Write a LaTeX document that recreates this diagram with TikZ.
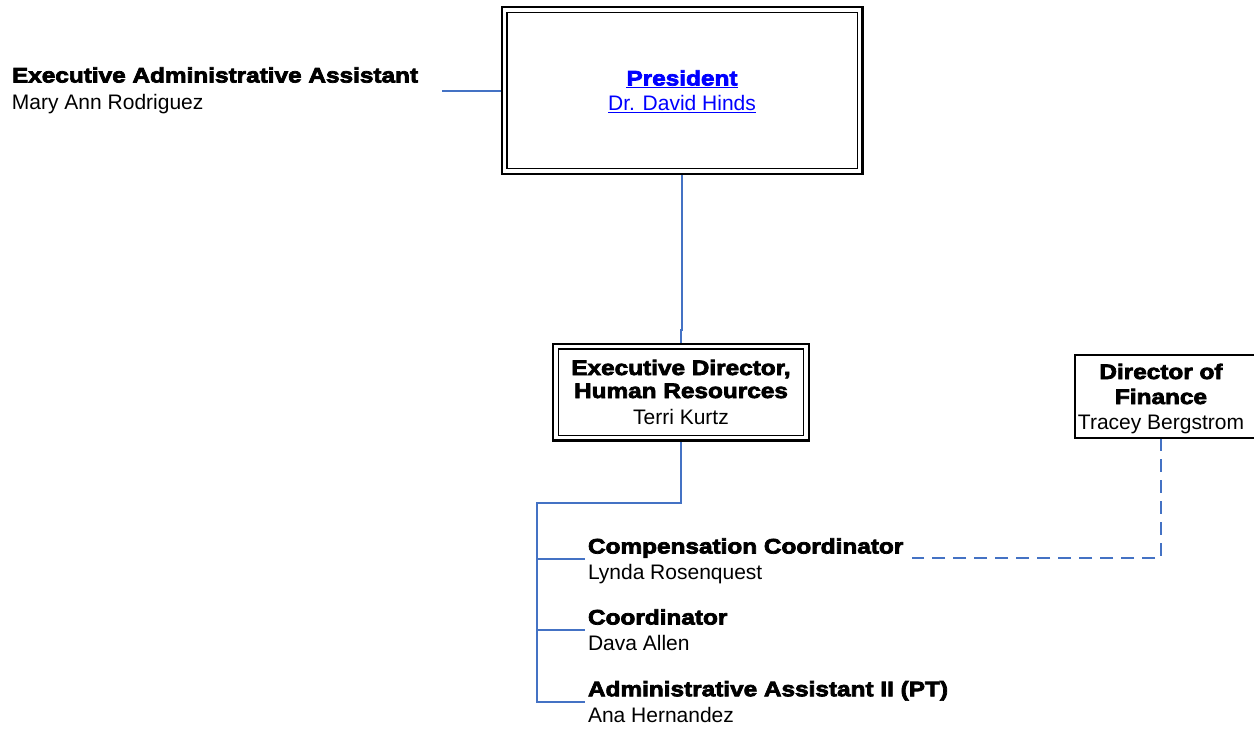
\documentclass[tikz,border=0pt]{standalone}
\usepackage{fontspec}
\setmainfont{Liberation Sans}[BoldFeatures={FakeStretch=1.16,FakeBold=3.5}]
\usetikzlibrary{backgrounds}
\definecolor{connblue}{RGB}{68,114,196}
\definecolor{linkblue}{RGB}{0,0,255}
\newcommand{\topstrut}{\rule{0pt}{20pt}}
\newcommand{\botstrut}{\rule[-5pt]{0pt}{5pt}}
\begin{document}
\begin{tikzpicture}[x=1pt,y=-1pt,
  every node/.style={font=\fontsize{21}{25}\selectfont, inner sep=0pt, outer sep=0pt},
  dblbox/.style={preaction={draw=black, line width=8pt}, draw, double, double distance=3.2pt, line width=1.4pt, fill=white, align=center},
  person/.style={align=left, anchor=west, inner xsep=3pt},
  conn/.style={draw=connblue, line width=2pt},
  dashconn/.style={conn, dash pattern=on 13pt off 8pt},
  boxline/.style={draw=black, line width=2pt}]
\begin{pgfonlayer}{background}
\fill[white] (0,0) rectangle (1254,729);
\end{pgfonlayer}
\useasboundingbox (0,0) rectangle (1254,729);

% boxes
\node[dblbox, text=linkblue, minimum width=355pt, minimum height=161pt] (pres) at (682,90.5)
  {\topstrut\textbf{\underline{President}}\\ \underline{Dr. David Hinds}\botstrut};
\node[dblbox, minimum width=250pt, minimum height=91pt] (ed) at (681,392)
  {\topstrut\textbf{Executive Director,}\\[-2pt] \textbf{Human Resources}\\[1pt] Terri Kurtz\botstrut};
\node[align=center, minimum height=83pt] (dof) at (1161,396.5)
  {\topstrut\textbf{Director of}\\ \textbf{Finance}\\ Tracey Bergstrom\botstrut};
\draw[boxline] (1262,355) -| (1075,438) -- (1262,438);

% staff
\node[align=left, anchor=west] (ea) at (12,88.35)
  {\topstrut\textbf{Executive Administrative Assistant}\\[1.7pt] Mary Ann Rodriguez\botstrut};
\node[person] (cc) at (585,559)
  {\topstrut\textbf{Compensation Coordinator}\\[1pt] Lynda Rosenquest\botstrut};
\node[person] (co) at (585,630)
  {\topstrut\textbf{Coordinator}\\[1pt] Dava Allen\botstrut};
\node[person] (aa) at (585,702)
  {\topstrut\textbf{Administrative Assistant II (PT)}\\[1.5pt] Ana Hernandez\botstrut};

% connectors
\coordinate (eaend) at (442,91);
\coordinate (jog) at (681,330);
\coordinate (bus) at (537,503);
\coordinate (dcorner) at (1161,558);
\coordinate (dend) at (912,558);
\begin{scope}[on background layer]
\draw[conn] (eaend) -- (eaend -| pres.west);
\draw[conn] (pres.south) -- (pres.south |- jog) -- (jog) -- (jog |- ed.north);
\draw[conn] (ed.south) |- (bus) -- (bus |- aa.west) -- (aa.west);
\draw[conn] (bus |- cc.west) -- (cc.west);
\draw[conn] (bus |- co.west) -- (co.west);
\draw[dashconn] (dof.south) -- (dcorner) -- (dend);
\end{scope}
\end{tikzpicture}
\end{document}
